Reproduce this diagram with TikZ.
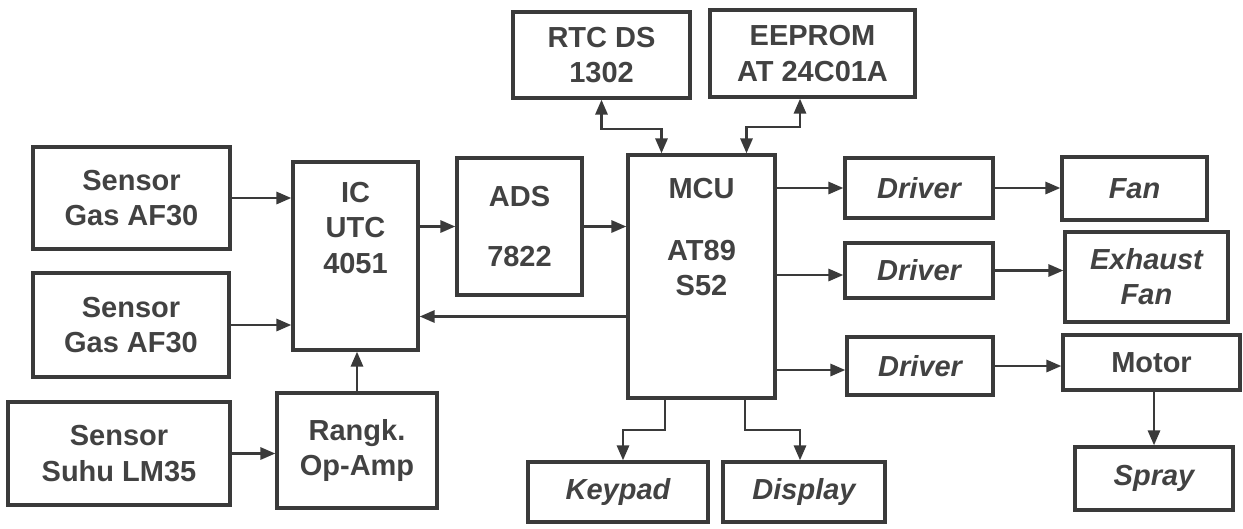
\documentclass[tikz,border=0pt]{standalone}
\usepackage{fontspec}
\setmainfont{Liberation Sans}
\usetikzlibrary{arrows.meta}
\definecolor{InkGray}{RGB}{58,58,58}
\definecolor{TxtGray}{RGB}{66,66,66}

\begin{document}
\begin{tikzpicture}[x=0.02cm, y=-0.02cm,
          blk/.style={rectangle, draw=InkGray, line width=2pt, inner sep=0pt,
                      align=center, text=TxtGray,
                      font=\fontsize{16.5}{20}\selectfont\bfseries},
          iblk/.style={blk, font=\fontsize{16.5}{20}\selectfont\bfseries\itshape},
          txt/.style={align=center, text=TxtGray, inner sep=0pt,
                      font=\fontsize{16.5}{20}\selectfont\bfseries},
          arr/.style={-{Triangle[length=8.5pt, width=7pt]}, draw=InkGray,
                      line width=1.3pt},
          darr/.style={{Triangle[length=8.5pt, width=7pt]}-{Triangle[length=8.5pt, width=7pt]},
                       draw=InkGray, line width=1.3pt}
        ]
        \useasboundingbox (0,0) rectangle (1243,528);

        % inputs
        \node[blk, minimum width=3.94cm, minimum height=2.04cm] (gas1) at (131.5,198)
              {Sensor\\Gas AF30};
        \node[blk, minimum width=3.92cm, minimum height=2.08cm] (gas2) at (131,325)
              {Sensor\\Gas AF30};
        \node[blk, minimum width=4.44cm, minimum height=2.06cm] (suhu) at (119,453.5)
              {Sensor\\Suhu LM35};
        \node[blk, minimum width=3.2cm, minimum height=2.3cm] (opamp) at (357,450.5)
              {Rangk.\\Op-Amp};

        % mux, adc, mcu
        \node[blk, minimum width=2.5cm, minimum height=3.76cm] (mux) at (355.5,256) {};
        \node[txt] (muxtxt) at (355.5,228) {IC\\UTC\\4051};
        \node[blk, minimum width=2.5cm, minimum height=2.74cm] (adc) at (519.5,226.5)
              {ADS\\[0.5cm]7822};
        \node[blk, minimum width=2.94cm, minimum height=4.86cm] (mcu) at (701.5,276.5) {};
        \node[txt] (mcutxt) at (701.5,237) {MCU\\[0.55cm]AT89\\S52};

        \node[blk, minimum width=3.54cm, minimum height=1.72cm] (rtc) at (601.5,55)
              {RTC DS\\1302};
        \node[blk, minimum width=4.1cm, minimum height=1.74cm] (eeprom) at (812.5,53.5)
              {EEPROM\\AT 24C01A};
        \node[iblk, minimum width=3.6cm, minimum height=1.2cm] (keypad) at (618,492)
              {Keypad};
        \node[iblk, minimum width=3.24cm, minimum height=1.2cm] (disp) at (804,492)
              {Display};

        % outputs
        \node[iblk, minimum width=2.96cm, minimum height=1.2cm] (drv1) at (919,188) {Driver};
        \node[iblk, minimum width=2.96cm, minimum height=1.1cm] (drv2) at (919,270.5) {Driver};
        \node[iblk, minimum width=2.92cm, minimum height=1.16cm] (drv3) at (920,366) {Driver};
        \node[iblk, minimum width=2.9cm, minimum height=1.26cm] (fan) at (1134.5,188.5) {Fan};
        \node[iblk, minimum width=3.26cm, minimum height=1.8cm] (exfan) at (1146.5,277)
              {Exhaust\\Fan};
        \node[blk, minimum width=3.54cm, minimum height=1.1cm] (motor) at (1151.5,362.5)
              {Motor};
        \node[iblk, minimum width=3.16cm, minimum height=1.26cm] (spray) at (1154,478.5)
              {Spray};

        \draw[arr]  (gas1.east) -- (gas1.east -| mux.west);
        \draw[arr]  (gas2.east) -- (gas2.east -| mux.west);
        \draw[arr]  (suhu.east) -- (suhu.east -| opamp.west);
        \draw[arr]  (opamp.north) -- (opamp.north |- mux.south);
        \draw[arr]  (adc.west -| mux.east) -- (adc.west);
        \draw[arr]  (adc.east) -- (adc.east -| mcu.west);
        \draw[arr]  ([yshift=-0.8cm]mcu.west) -- ([yshift=-0.8cm]mcu.west -| mux.east);
        \draw[darr] (rtc.south) -- ++(0,29) -| ([xshift=-0.8cm]mcu.north);
        \draw[darr] ([xshift=-0.25cm]eeprom.south) -- ++(0,28) -| ([xshift=0.9cm]mcu.north);
        \draw[arr]  ([xshift=-0.73cm]mcu.south) -- ++(0,30) -| ([xshift=0.1cm]keypad.north);
        \draw[arr]  ([xshift=0.87cm]mcu.south) -- ++(0,30) -| ([xshift=-0.08cm]disp.north);
        \draw[arr]  (drv1.west -| mcu.east) -- (drv1.west);
        \draw[arr]  ([yshift=-0.09cm]drv2.west -| mcu.east) -- ([yshift=-0.09cm]drv2.west);
        \draw[arr]  ([yshift=-0.08cm]drv3.west -| mcu.east) -- ([yshift=-0.08cm]drv3.west);
        \draw[arr]  (drv1.east) -- (drv1.east -| fan.west);
        \draw[arr]  (drv2.east) -- (drv2.east -| exfan.west);
        \draw[arr]  (drv3.east) -- (drv3.east -| motor.west);
        \draw[arr]  (spray.north |- motor.south) -- (spray.north);
      \end{tikzpicture}
\end{document}
